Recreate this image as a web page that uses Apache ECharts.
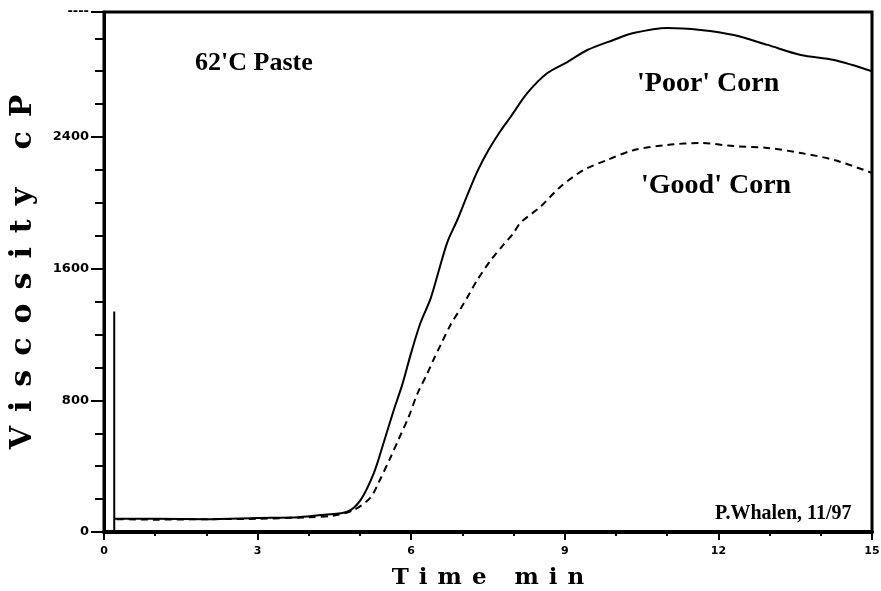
<!DOCTYPE html>
<html>
<head>
<meta charset="utf-8">
<script src="https://cdn.jsdelivr.net/npm/echarts@6/dist/echarts.min.js"></script>
<style>html,body{margin:0;padding:0;background:#fff;}#c{width:881px;height:591px;}</style>
</head>
<body>
<div id="c"></div>
<script>
// Time (min) and viscosity (cP)
const poorTime = [0.2, 0.2, 0.22, 0.5, 1, 2, 3, 3.8, 4.3, 4.75, 5.01, 5.27, 5.46, 5.66, 5.83, 6.0, 6.18, 6.38, 6.55, 6.71, 6.9, 7.1, 7.29, 7.51, 7.75, 7.94, 8.27, 8.66, 9.05, 9.44, 9.95, 10.34, 11.0, 11.65, 12.3, 12.96, 13.61, 14.26, 15.0];
const poorVisc = [0, 1340, 80, 80, 80, 78, 85, 90, 105, 123, 194, 358, 541, 741, 900, 1090, 1270, 1420, 1600, 1765, 1896, 2050, 2190, 2321, 2440, 2522, 2668, 2789, 2856, 2929, 2990, 3032, 3063, 3051, 3020, 2960, 2899, 2868, 2800];
const goodTime = [0.25, 1, 2, 3, 4, 4.5, 4.88, 5.2, 5.36, 5.6, 5.75, 5.95, 6.12, 6.31, 6.44, 6.58, 6.77, 6.97, 7.1, 7.29, 7.55, 7.8, 8.0, 8.13, 8.52, 8.91, 9.37, 9.83, 10.34, 11.0, 11.65, 12.3, 12.96, 13.61, 14.26, 15.0];
const goodVisc = [78, 75, 78, 80, 90, 100, 134, 207, 298, 456, 560, 699, 840, 960, 1050, 1140, 1260, 1360, 1428, 1531, 1650, 1745, 1817, 1878, 1975, 2097, 2200, 2261, 2320, 2352, 2364, 2345, 2334, 2303, 2261, 2182];
const yTicks = [0, 800, 1600, 2400];
const xTicks = [0, 3, 6, 9, 12, 15];
const yMax = 3160;
const xTitle = 'Time min';
const yTitle = 'Viscosity cP';
const notes = ["62'C Paste", "'Poor' Corn", "'Good' Corn", "P.Whalen, 11/97"];

function spaced(s, key) { return s.split('').map(c => '{' + key + '|' + c + '}').join(''); }
const pair = (t, v) => t.map((x, i) => [x, v[i]]);

const chart = echarts.init(document.getElementById('c'), null, {renderer: 'canvas'});
chart.setOption({
  backgroundColor: '#fff',
  animation: false,
  grid: {left: 104, right: 9, top: 12, bottom: 59, show: true, borderColor: '#000', borderWidth: 3,
    backgroundColor: 'transparent', containLabel: false, outerBoundsMode: 'none'},
  xAxis: {
    type: 'value', min: 0, max: 15, interval: 3,
    axisLine: {lineStyle: {color: '#000', width: 4}},
    axisTick: {length: 8, lineStyle: {color: '#000', width: 2}},
    minorTick: {show: true, splitNumber: 3, length: 4, lineStyle: {color: '#000', width: 2}},
    splitLine: {show: false},
    axisLabel: {color: '#000', fontFamily: 'DejaVu Sans', fontWeight: 'bold', fontSize: 11, margin: 14,
      formatter: v => xTicks.includes(v) ? String(v) : ''},
    name: spaced(xTitle, 't'), nameLocation: 'middle', nameGap: 35,
    nameTextStyle: {rich: {t: {fontFamily: 'DejaVu Serif', fontWeight: 'bold', fontSize: 23, color: '#000', padding: [0, 5]}}}
  },
  yAxis: {
    type: 'value', min: 0, max: yMax, interval: 800,
    axisLine: {lineStyle: {color: '#000', width: 3}},
    axisTick: {length: 13, lineStyle: {color: '#000', width: 2}},
    minorTick: {show: true, splitNumber: 4, length: 9, lineStyle: {color: '#000', width: 2}},
    splitLine: {show: false},
    axisLabel: {color: '#000', fontFamily: 'DejaVu Sans', fontWeight: 'bold', fontSize: 13, margin: 15,
      formatter: v => yTicks.includes(v) ? String(v) : (v === yMax ? '----' : '')},
    name: spaced(yTitle, 't'), nameLocation: 'middle', nameGap: 66, nameRotate: 90,
    nameTextStyle: {rich: {t: {fontFamily: 'DejaVu Serif', fontWeight: 'bold', fontSize: 30, color: '#000', padding: [0, 7]}}}
  },
  series: [
    {name: "'Poor' Corn", type: 'line', data: pair(poorTime, poorVisc), showSymbol: false, smooth: 0.3,
      lineStyle: {color: '#000', width: 2}},
    {name: "'Good' Corn", type: 'line', data: pair(goodTime, goodVisc), showSymbol: false, smooth: 0.3,
      lineStyle: {color: '#000', width: 2, type: [7, 5]}}
  ],
  graphic: [
    {type: 'text', left: 195, top: 50, style: {text: notes[0], font: 'bold 26px "Liberation Serif"', fill: '#000'}},
    {type: 'text', left: 637, top: 70, style: {text: notes[1], font: 'bold 28px "Liberation Serif"', fill: '#000'}},
    {type: 'text', left: 641, top: 172, style: {text: notes[2], font: 'bold 28px "Liberation Serif"', fill: '#000'}},
    {type: 'text', left: 715, top: 504, style: {text: notes[3], font: 'bold 20px "Liberation Serif"', fill: '#000'}}
  ]
});
</script>
</body>
</html>
